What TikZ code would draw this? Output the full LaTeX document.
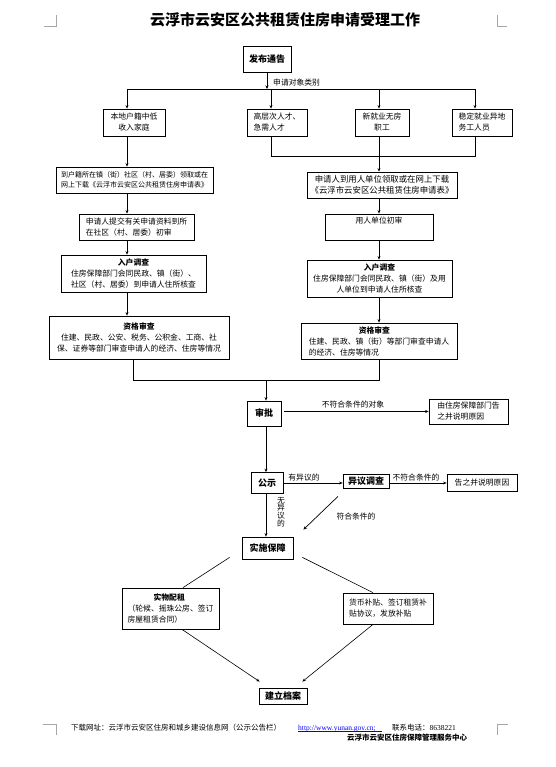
\documentclass[tikz,border=0pt]{standalone}
\usepackage{fontspec}
\setmainfont{Noto Sans CJK SC}
\newfontfamily\urlfont{Liberation Serif}
\usetikzlibrary{arrows.meta, positioning, calc}

\tikzset{
  box/.style={draw, line width=0.8pt, inner sep=2pt, font=\fontsize{7.8}{11}\selectfont},
  boxb/.style={draw, line width=0.8pt, inner sep=2pt, font=\bfseries\fontsize{9}{11}\selectfont},
  lab/.style={font=\fontsize{7.8}{10}\selectfont, inner sep=0pt},
  conn/.style={line width=0.7pt},
  arr/.style={line width=0.7pt, -{Stealth[length=3.5pt,width=3pt]}},
  corner/.style={gray!70, line width=0.6pt}
}

\begin{document}
\begin{tikzpicture}[x=1pt,y=-1pt]
\useasboundingbox (0,0) rectangle (555,767);

% title and page corners
\node[font=\bfseries\fontsize{15}{18}\selectfont] (title) at (285,20) {云浮市云安区公共租赁住房申请受理工作};
\draw[corner] (44,26) -- (56,26) -- (56,15);
\draw[corner] (507,26) -- (497,26) -- (497,15);
\draw[corner] (43,724) -- (56,724) -- (56,735);
\draw[corner] (508,724) -- (497,724) -- (497,735);

% top
\node[boxb, minimum width=48, minimum height=26] (fabu) at (267,59) {发布通告};
\coordinate (fen) at (267,89);
\coordinate (f1) at (127,89);
\coordinate (f2) at (271,89);
\coordinate (f3) at (379,89);
\coordinate (f4) at (475,89);
\draw[arr] (fabu) -- (fen);
\node[lab, anchor=west] at (273,83) {申请对象类别};
\draw[conn] (f1) -- (f4);

% applicant groups
\node[box, minimum width=62, minimum height=27, align=center] (A1) at (134,122.5) {本地户籍中低\\收入家庭};
\node[box, minimum width=60, minimum height=27, align=left] (A2) at (277,122.5) {高层次人才、\\急需人才};
\node[box, minimum width=54, minimum height=27, align=center] (A3) at (382,122.5) {新就业无房\\职工};
\node[box, minimum width=60, minimum height=27, align=left] (A4) at (482,122.5) {稳定就业异地\\务工人员};
\foreach \f/\a in {f1/A1, f2/A2, f3/A3, f4/A4}
  \draw[arr] (\f) -- (\f |- \a.north);

% left column
\node[box, minimum width=157, minimum height=26, align=left, font=\fontsize{7}{10}\selectfont] (B1) at (134.5,180) {到户籍所在镇（街）社区（村、居委）领取或在\\网上下载《云浮市云安区公共租赁住房申请表》};
\node[box, minimum width=115, minimum height=26, align=left] (B2) at (136.5,227) {申请人提交有关申请资料到所\\在社区（村、居委）初审};
\node[box, minimum width=145, minimum height=37, align=center] (B3) at (133.5,273.5) {\textbf{入户调查}\\住房保障部门会同民政、镇（街）、\\社区（村、居委）到申请人住所核查};
\node[box, minimum width=180, minimum height=43, align=center] (B4) at (139,337.5) {\textbf{资格审查}\\住建、民政、公安、税务、公积金、工商、社\\保、证券等部门审查申请人的经济、住房等情况};
\draw[arr] (A1.south -| f1) -- (B1.north -| f1);
\draw[arr] (B1.south -| f1) -- (B2.north -| f1);
\draw[arr] (B2.south -| f1) -- (B3.north -| f1);
\draw[arr] (B3.south -| f1) -- (B4.north -| f1);

% right column
\coordinate (h2) at (271,156);
\coordinate (h3) at (379,156);
\coordinate (h4) at (475,156);
\draw[conn] (A2.south -| h2) -- (h2) -- (h4) -- (A4.south -| h4);
\draw[conn] (A3.south -| h3) -- (h3);
\node[box, minimum width=150, minimum height=26, align=center, font=\fontsize{8.4}{11}\selectfont] (C1) at (382,185) {申请人到用人单位领取或在网上下载\\《云浮市云安区公共租赁住房申请表》};
\node[box, minimum width=108, minimum height=26, align=center] (C2) at (379,227) {用人单位初审\\[3pt]\mbox{}};
\node[box, minimum width=145, minimum height=37, align=center] (C3) at (379.5,278.5) {\textbf{入户调查}\\住房保障部门会同民政、镇（街）及用\\人单位到申请人住所核查};
\node[box, minimum width=156, minimum height=36, align=left] (C4) at (379,341) {\hspace*{50pt}\textbf{资格审查}\\住建、民政、镇（街）等部门审查申请人\\的经济、住房等情况};
\draw[arr] (h3) -- (C1.north -| h3);
\draw[arr] (C1.south -| h3) -- (C2.north -| h3);
\draw[arr] (C2.south -| h3) -- (C3.north -| h3);
\draw[arr] (C3.south -| h3) -- (C4.north -| h3);

% merge and approval
\coordinate (mL) at (133,380);
\coordinate (mR) at (379,380);
\coordinate (ax) at (266,380);
\draw[conn] (B4.south -| mL) -- (mL) -- (mR) -- (C4.south -| mR);
\node[boxb, minimum width=34, minimum height=25] (shenpi) at (264,413.5) {审批};
\node[box, minimum width=79, minimum height=25, align=left] (D1) at (468.5,411.5) {由住房保障部门告\\之并说明原因};
\draw[arr] (ax) -- (shenpi.north -| ax);
\draw[arr] ($(shenpi.east)+(3,-2)$) -- ($(shenpi.east -| D1.west)+(0,-2)$);
\node[lab] at (353,405) {不符合条件的对象};

% publicity
\node[boxb, minimum width=32, minimum height=21] (gongshi) at (267,483) {公示};
\node[boxb, minimum width=46, minimum height=14, inner sep=0pt] (yiyi) at (366,481) {异议调查};
\node[box, minimum width=70, minimum height=17] (D2) at (482,482.5) {告之并说明原因};
\draw[arr] (shenpi.south -| ax) -- (gongshi.north -| ax);
\draw[arr] (gongshi.east) -- (gongshi.east -| yiyi.west);
\node[lab] at (304,478) {有异议的};
\draw[arr] ($(yiyi.east)+(0,2)$) -- ($(yiyi.east -| D2.west)+(0,2)$);
\node[lab] at (416,478) {不符合条件的};

% guarantee
\node[boxb, minimum width=51, minimum height=22] (shishi) at (267.5,548) {实施保障};
\draw[arr] (gongshi.south -| ax) -- (shishi.north -| ax);
\node[lab, align=center, font=\fontsize{7.8}{7.8}\selectfont] at (281,512) {无\\异\\议\\的};
\draw[arr] ($(yiyi.south)+(-28,8)$) -- ($(shishi.north east)+(10,-7)$);
\node[lab] at (356,517) {符合条件的};

\node[box, minimum width=97, minimum height=41, align=left] (E1) at (170.5,608.5) {\hspace*{26pt}\textbf{实物配租}\\（轮候、摇珠公房、签订\\房屋租赁合同）};
\node[box, minimum width=90, minimum height=31, align=left] (E2) at (388,608.5) {货币补贴、签订租赁补\\贴协议，发放补贴};
\draw[conn, line width=0.6pt] ($(shishi.south west)+(-12,-2)$) -- ($(E1.north)+(12.5,0)$);
\draw[conn, line width=0.6pt] ($(shishi.south east)+(9,-2)$) -- ($(E2.north)+(-15,0)$);

\node[boxb, minimum width=48, minimum height=16, inner sep=0pt] (jianli) at (283,696) {建立档案};
\draw[arr, line width=0.6pt] ($(E1.south)+(11.5,0)$) -- ($(jianli.north west)+(1,-6)$);
\draw[arr, line width=0.6pt] ($(E2.south)+(-15,0)$) -- ($(jianli.north east)+(-5,-6)$);

% footer
\node[lab, anchor=base west, font=\fontsize{7.5}{9}\selectfont] (foot) at (71,730) {下载网址：云浮市云安区住房和城乡建设信息网（公示公告栏）};
\node[lab, anchor=base west, font=\urlfont\fontsize{7.5}{9}\selectfont, text=blue] (url) at (298,730) {http://www.yunan.gov.cn;};
\draw[blue, line width=0.5pt] ($(url.base west)+(0,1.5)$) -- ($(url.base east)+(6,1.5)$);
\node[lab, anchor=base west, font=\fontsize{7.5}{9}\selectfont] (tel) at (392,730) {联系电话：{\urlfont 8638221}};
\node[lab, anchor=base west, font=\bfseries\fontsize{7.5}{9}\selectfont] (org) at (347,740) {云浮市云安区住房保障管理服务中心};
\end{tikzpicture}
\end{document}
